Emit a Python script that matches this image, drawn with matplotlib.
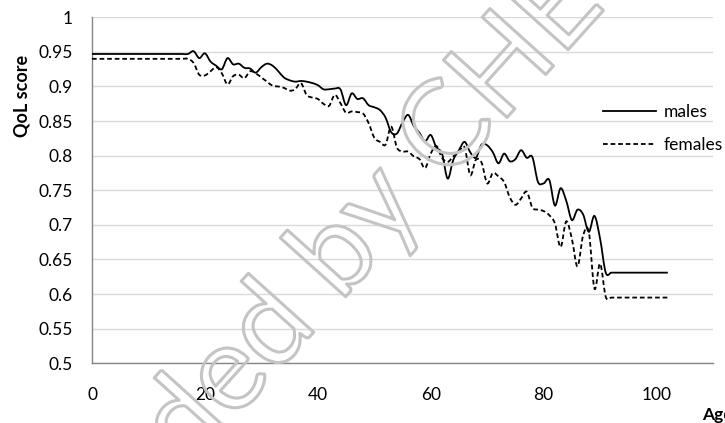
import numpy as np
import matplotlib
matplotlib.use("Agg")
import matplotlib.pyplot as plt
from matplotlib.path import Path
from matplotlib.patches import PathPatch
from matplotlib.lines import Line2D
import matplotlib.patheffects as pe

plt.rcParams['font.family'] = ['Lato', 'DejaVu Sans']

# QoL score by single year of age, 0..102
ages = list(range(0, 103))

males = [0.947] * 18 + [
    0.951, 0.941, 0.948, 0.936, 0.930, 0.925, 0.941, 0.932, 0.933, 0.927,   # 18-27
    0.926, 0.920, 0.928, 0.933, 0.930, 0.922, 0.913, 0.909, 0.907, 0.908,   # 28-37
    0.907, 0.905, 0.902, 0.896, 0.896, 0.897, 0.896, 0.873, 0.890, 0.882,   # 38-47
    0.883, 0.873, 0.870, 0.866, 0.855, 0.834, 0.832, 0.848, 0.859, 0.843,   # 48-57
    0.833, 0.821, 0.830, 0.812, 0.803, 0.767, 0.794, 0.808, 0.820, 0.805,   # 58-67
    0.797, 0.816, 0.815, 0.805, 0.789, 0.803, 0.792, 0.795, 0.808, 0.797,   # 68-77
    0.798, 0.762, 0.760, 0.765, 0.728, 0.753, 0.735, 0.707, 0.722, 0.715,   # 78-87
    0.690, 0.713, 0.680, 0.631,                                             # 88-91
] + [0.631] * 11

females = [0.940] * 18 + [
    0.934, 0.917, 0.916, 0.922, 0.928, 0.919, 0.903, 0.915, 0.917, 0.912,   # 18-27
    0.922, 0.919, 0.913, 0.907, 0.901, 0.900, 0.898, 0.894, 0.896, 0.905,   # 28-37
    0.888, 0.884, 0.882, 0.875, 0.872, 0.888, 0.876, 0.862, 0.864, 0.863,   # 38-47
    0.861, 0.847, 0.826, 0.820, 0.816, 0.842, 0.812, 0.806, 0.806, 0.799,   # 48-57
    0.795, 0.782, 0.803, 0.814, 0.797, 0.791, 0.799, 0.806, 0.812, 0.772,   # 58-67
    0.794, 0.790, 0.760, 0.775, 0.770, 0.762, 0.740, 0.729, 0.738, 0.748,   # 68-77
    0.725, 0.722, 0.720, 0.714, 0.702, 0.668, 0.705, 0.680, 0.640, 0.685,   # 78-87
    0.690, 0.608, 0.644, 0.596,                                             # 88-91
] + [0.595] * 11

series_names = ['males', 'females']
x_ticks = [0, 20, 40, 60, 80, 100]
y_ticks = [0.5, 0.55, 0.6, 0.65, 0.7, 0.75, 0.8, 0.85, 0.9, 0.95, 1.0]
y_tick_labels = ['0.5', '0.55', '0.6', '0.65', '0.7', '0.75', '0.8', '0.85', '0.9', '0.95', '1']


def smooth_path(xs, ys):
    # Catmull-Rom style bezier, like a spreadsheet "smoothed line"
    pts = np.column_stack([xs, ys]).astype(float)
    n = len(pts)
    verts = [pts[0]]
    codes = [Path.MOVETO]
    for i in range(n - 1):
        p0 = pts[i - 1] if i > 0 else pts[i]
        p1 = pts[i]
        p2 = pts[i + 1]
        p3 = pts[i + 2] if i + 2 < n else pts[i + 1]
        c1 = p1 + (p2 - p0) / 6.0
        c2 = p2 - (p3 - p1) / 6.0
        verts += [c1, c2, p2]
        codes += [Path.CURVE4] * 3
    return Path(verts, codes)


fig = plt.figure(figsize=(7.25, 4.23), dpi=100)
ax = fig.add_axes([92 / 725, 1 - 363.3 / 423, (713 - 92) / 725, (363.3 - 17.3) / 423])

ax.set_xlim(0, 110)
ax.set_ylim(0.5, 1.0)
ax.set_xticks(x_ticks)
ax.set_yticks(y_ticks)
ax.set_yticklabels(y_tick_labels)
ax.tick_params(length=0, labelsize=12.5, colors='#000000')
ax.tick_params(axis='y', pad=14)
ax.tick_params(axis='x', pad=17)
ax.grid(axis='y', color='#d9d9d9', linewidth=1.0)
ax.set_axisbelow(True)
for s in ['top', 'right']:
    ax.spines[s].set_visible(False)
for s in ['left', 'bottom']:
    ax.spines[s].set_color('#868686')
    ax.spines[s].set_linewidth(1.0)

# watermark (outline only)
wm = dict(fontsize=86, color='none', rotation=48, rotation_mode='anchor',
          va='baseline', zorder=1,
          path_effects=[pe.withStroke(linewidth=2.2, foreground='#c4c4c4')])
fig.text(340 / 725, 1 - 303 / 423, 'by CHE', ha='left', **wm)
fig.text(340 / 725, 1 - 303 / 423, 'Superseded ', ha='right', **wm)

styles = [dict(linestyle='-'), dict(linestyle=(0, (2.6, 1.6)))]
for vals, st in zip([males, females], styles):
    patch = PathPatch(smooth_path(ages, vals), fill=False, edgecolor='black',
                      linewidth=1.3, zorder=3, **st)
    ax.add_patch(patch)

handles = [Line2D([], [], color='black', linewidth=1.3, **st) for st in styles]
fig.legend(handles, series_names, loc='upper left',
           bbox_to_anchor=(603 / 725, 1 - 104 / 423), frameon=False,
           fontsize=12.5, handlelength=3.05, handletextpad=0.45,
           labelspacing=0.98, borderpad=0, borderaxespad=0)

fig.text(22 / 725, 1 - 96 / 423, 'QoL score', rotation=90, ha='center',
         va='center', fontsize=13, fontweight='bold')
fig.text(702 / 725, 3 / 423, 'Age', ha='left', va='baseline',
         fontsize=12.5, fontweight='bold')

fig.savefig('out.png', dpi=100)
